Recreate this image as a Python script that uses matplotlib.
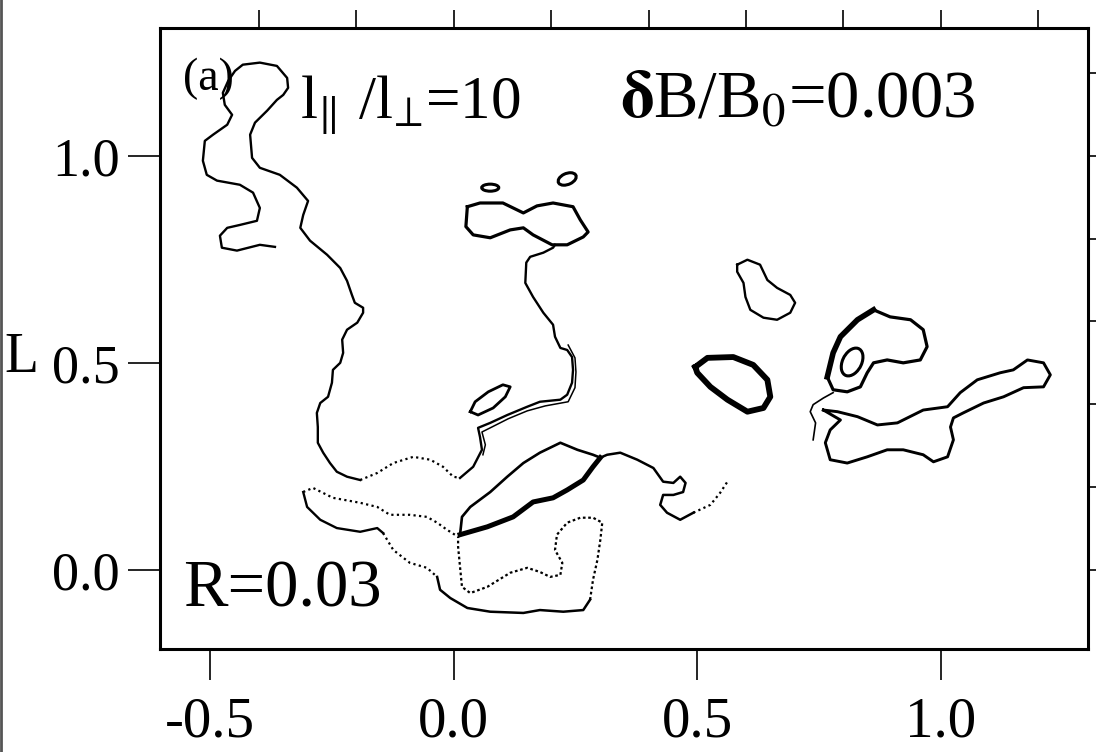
import matplotlib
matplotlib.use('Agg')
import matplotlib.pyplot as plt
from matplotlib.patches import Ellipse
from matplotlib.lines import Line2D

plt.rcParams['font.family'] = ['Liberation Serif', 'DejaVu Serif']
plt.rcParams['mathtext.fontset'] = 'stix'

# ---- traced field-line data (x, L) ----
# long wiggly line on the left
left_x = [-0.367, -0.398, -0.445, -0.476, -0.480, -0.465, -0.439, -0.404, -0.398, -0.412,
          -0.439, -0.486, -0.507, -0.515, -0.511, -0.494, -0.465, -0.455, -0.470, -0.474,
          -0.463, -0.449, -0.433, -0.398, -0.363, -0.342, -0.340, -0.350, -0.363, -0.383,
          -0.408, -0.418, -0.414, -0.398, -0.357, -0.322, -0.299, -0.309, -0.315, -0.295,
          -0.260, -0.233, -0.219, -0.209, -0.203, -0.186, -0.186, -0.198, -0.219, -0.229,
          -0.227, -0.233, -0.248, -0.250, -0.258, -0.274, -0.281, -0.279, -0.279, -0.268,
          -0.254, -0.240, -0.219, -0.192]
left_y = [0.780, 0.785, 0.771, 0.778, 0.807, 0.826, 0.833, 0.843, 0.874, 0.911,
          0.930, 0.940, 0.954, 0.988, 1.036, 1.051, 1.075, 1.099, 1.123, 1.152,
          1.181, 1.205, 1.220, 1.225, 1.217, 1.188, 1.164, 1.147, 1.135, 1.109,
          1.080, 1.051, 0.995, 0.971, 0.954, 0.923, 0.891, 0.857, 0.826, 0.795,
          0.761, 0.729, 0.698, 0.664, 0.645, 0.633, 0.621, 0.597, 0.580, 0.556,
          0.524, 0.500, 0.483, 0.452, 0.418, 0.403, 0.379, 0.345, 0.307, 0.283,
          0.258, 0.237, 0.225, 0.217]
left_dot_x = [-0.192, -0.157, -0.124, -0.083, -0.048, -0.022, -0.001, 0.013]
left_dot_y = [0.217, 0.234, 0.258, 0.273, 0.266, 0.249, 0.225, 0.222]

# stem rising to the peanut-shaped island
stem_x = [0.013, 0.040, 0.058, 0.054, 0.050, 0.075, 0.110, 0.151, 0.177, 0.219,
          0.233, 0.243, 0.245, 0.243, 0.233, 0.219, 0.208, 0.204, 0.184, 0.163,
          0.147, 0.149, 0.157, 0.184, 0.204, 0.208]
stem_y = [0.222, 0.249, 0.290, 0.321, 0.343, 0.355, 0.374, 0.394, 0.406, 0.411,
          0.423, 0.452, 0.483, 0.514, 0.531, 0.536, 0.563, 0.592, 0.621, 0.659,
          0.693, 0.742, 0.756, 0.766, 0.778, 0.785]
strand_x = [0.235, 0.249, 0.251, 0.249, 0.235, 0.188, 0.151, 0.112, 0.075, 0.058, 0.065, 0.060]
strand_y = [0.543, 0.512, 0.478, 0.440, 0.406, 0.396, 0.384, 0.365, 0.343, 0.333, 0.302, 0.278]

peanut_x = [0.028, 0.054, 0.101, 0.143, 0.171, 0.204, 0.245, 0.260, 0.276, 0.266,
            0.233, 0.202, 0.163, 0.143, 0.116, 0.075, 0.040, 0.025, 0.028]
peanut_y = [0.877, 0.886, 0.886, 0.862, 0.879, 0.886, 0.877, 0.845, 0.816, 0.804,
            0.785, 0.785, 0.809, 0.826, 0.821, 0.802, 0.809, 0.829, 0.877]

# small islands: centre x, centre y, width, height, angle
isl_cx = [0.075, 0.233, 0.818]
isl_cy = [0.923, 0.944, 0.502]
isl_w = [0.035, 0.040, 0.040]
isl_h = [0.017, 0.026, 0.070]
isl_ang = [0, 30, -20]

drop_x = [0.034, 0.044, 0.071, 0.101, 0.116, 0.106, 0.081, 0.050, 0.034]
drop_y = [0.382, 0.406, 0.430, 0.447, 0.442, 0.418, 0.391, 0.374, 0.382]

# tongue and lower loop
tongue_up_x = [-0.309, -0.289, -0.248, -0.192, -0.157, -0.131, -0.090, -0.055, -0.034, -0.014, 0.009]
tongue_up_y = [0.188, 0.198, 0.174, 0.162, 0.152, 0.133, 0.133, 0.128, 0.114, 0.097, 0.080]
tongue_lo_x = [-0.309, -0.301, -0.274, -0.240, -0.192, -0.157, -0.145]
tongue_lo_y = [0.188, 0.152, 0.121, 0.101, 0.092, 0.101, 0.089]
slope_x = [-0.145, -0.124, -0.090, -0.055, -0.034]
slope_y = [0.089, 0.048, 0.017, 0.005, -0.017]
bottom_x = [-0.034, -0.028, -0.007, 0.028, 0.075, 0.143, 0.177, 0.225, 0.266, 0.280]
bottom_y = [-0.017, -0.048, -0.068, -0.092, -0.101, -0.104, -0.097, -0.101, -0.097, -0.072]
loop_x = [0.280, 0.286, 0.295, 0.301, 0.305, 0.286, 0.260, 0.233, 0.212, 0.208,
          0.223, 0.219, 0.198, 0.177, 0.151, 0.116, 0.069, 0.034, 0.017, 0.013, 0.009, 0.009]
loop_y = [-0.072, -0.024, 0.024, 0.072, 0.114, 0.126, 0.126, 0.114, 0.085, 0.048,
          0.017, -0.012, -0.017, -0.005, 0.005, -0.007, -0.041, -0.056, -0.041, 0.007, 0.056, 0.080]

# lens shaped island
lens_lo_x = [0.013, 0.069, 0.122, 0.163, 0.204, 0.233, 0.266, 0.286, 0.301]
lens_lo_y = [0.085, 0.104, 0.128, 0.164, 0.174, 0.193, 0.217, 0.249, 0.271]
lens_up_x = [0.013, 0.017, 0.034, 0.075, 0.110, 0.143, 0.177, 0.219, 0.254, 0.286, 0.301]
lens_up_y = [0.085, 0.128, 0.152, 0.188, 0.225, 0.258, 0.283, 0.307, 0.290, 0.278, 0.271]
tail_x = [0.301, 0.315, 0.342, 0.377, 0.410, 0.430, 0.451, 0.465, 0.476, 0.471,
          0.451, 0.430, 0.424, 0.438, 0.465, 0.492]
tail_y = [0.271, 0.278, 0.283, 0.266, 0.246, 0.213, 0.210, 0.225, 0.210, 0.188,
          0.181, 0.181, 0.157, 0.138, 0.121, 0.138]
tail_dot_x = [0.492, 0.527, 0.547, 0.562]
tail_dot_y = [0.138, 0.157, 0.186, 0.213]

# right hand islands
blobB_x = [0.582, 0.603, 0.629, 0.644, 0.664, 0.691, 0.701, 0.691, 0.664, 0.636,
           0.609, 0.599, 0.595, 0.582, 0.582]
blobB_y = [0.737, 0.749, 0.737, 0.700, 0.681, 0.664, 0.645, 0.621, 0.604, 0.609,
           0.628, 0.659, 0.693, 0.720, 0.737]
blobC_x = [0.496, 0.521, 0.574, 0.615, 0.644, 0.650, 0.636, 0.603, 0.562, 0.527, 0.500, 0.496]
blobC_y = [0.490, 0.512, 0.514, 0.495, 0.459, 0.418, 0.391, 0.382, 0.411, 0.442, 0.476, 0.490]
blobD_x = [0.767, 0.779, 0.794, 0.829, 0.862, 0.896, 0.938, 0.964, 0.972, 0.958,
           0.923, 0.890, 0.862, 0.849, 0.835, 0.808, 0.779, 0.767]
blobD_y = [0.466, 0.524, 0.563, 0.604, 0.628, 0.611, 0.604, 0.580, 0.539, 0.507,
           0.500, 0.507, 0.500, 0.476, 0.442, 0.430, 0.435, 0.466]
tailD_x = [0.779, 0.759, 0.738, 0.732, 0.743, 0.738]
tailD_y = [0.428, 0.415, 0.399, 0.382, 0.355, 0.314]
blobE_x = [0.759, 0.788, 0.829, 0.870, 0.911, 0.964, 1.014, 1.040, 1.075, 1.122,
           1.149, 1.178, 1.211, 1.225, 1.211, 1.170, 1.129, 1.088, 1.046, 1.026,
           1.020, 1.026, 1.014, 0.985, 0.964, 0.923, 0.890, 0.849, 0.808, 0.773,
           0.763, 0.773, 0.794]
blobE_y = [0.386, 0.382, 0.370, 0.350, 0.355, 0.386, 0.394, 0.428, 0.459, 0.476,
           0.483, 0.507, 0.500, 0.471, 0.442, 0.440, 0.418, 0.403, 0.379, 0.367,
           0.345, 0.314, 0.273, 0.261, 0.278, 0.290, 0.290, 0.273, 0.258, 0.266,
           0.307, 0.338, 0.362]

x_major = [-0.5, 0.0, 0.5, 1.0]
y_major = [0.0, 0.5, 1.0]
top_ticks = [-0.4, -0.2, 0.0, 0.2, 0.4, 0.6, 0.8, 1.0, 1.2]
right_ticks = [0.0, 0.2, 0.4, 0.6, 0.8, 1.0, 1.2]

fig = plt.figure(figsize=(10.96, 7.52), dpi=100)
ax = fig.add_axes([0.146, 0.137, 0.847, 0.826])

k = 'black'
ax.plot(left_x, left_y, color=k, lw=1.7)
ax.plot(left_dot_x, left_dot_y, color=k, lw=1.6, ls=(0, (1, 1.5)))
ax.plot(stem_x, stem_y, color=k, lw=1.7)
ax.plot(strand_x, strand_y, color=k, lw=1.1)
ax.plot(peanut_x, peanut_y, color=k, lw=2.3)
ax.plot(drop_x, drop_y, color=k, lw=2.0)
for cx, cy, w, h, a in zip(isl_cx, isl_cy, isl_w, isl_h, isl_ang):
    ax.add_patch(Ellipse((cx, cy), w, h, angle=a, fill=False, ec=k, lw=2.2))

ax.plot(tongue_up_x, tongue_up_y, color=k, lw=1.6, ls=(0, (1, 1.5)))
ax.plot(tongue_lo_x, tongue_lo_y, color=k, lw=1.7)
ax.plot(slope_x, slope_y, color=k, lw=1.6, ls=(0, (1, 1.5)))
ax.plot(bottom_x, bottom_y, color=k, lw=1.8)
ax.plot(loop_x, loop_y, color=k, lw=1.6, ls=(0, (1.2, 1.2)))
ax.plot(lens_lo_x, lens_lo_y, color=k, lw=3.6)
ax.plot(lens_up_x, lens_up_y, color=k, lw=1.9)
ax.plot(tail_x, tail_y, color=k, lw=1.8)
ax.plot(tail_dot_x, tail_dot_y, color=k, lw=1.6, ls=(0, (1, 1.5)))

ax.plot(blobB_x, blobB_y, color=k, lw=1.7)
ax.plot(blobC_x, blobC_y, color=k, lw=4.2)
ax.plot(blobD_x, blobD_y, color=k, lw=2.3)
ax.plot(blobD_x[:5], blobD_y[:5], color=k, lw=4.0)
ax.plot(tailD_x, tailD_y, color=k, lw=1.2)
ax.plot(blobE_x + blobE_x[:1], blobE_y + blobE_y[:1], color=k, lw=2.1)

ax.set_xlim(-0.603, 1.303)
ax.set_ylim(-0.191, 1.309)

for s in ax.spines.values():
    s.set_linewidth(2.2)

ax.set_xticks(x_major)
ax.set_xticklabels(['-0.5', '0.0', '0.5', '1.0'], fontsize=41)
ax.set_yticks(y_major)
ax.set_yticklabels(['0.0', '0.5', '1.0'], fontsize=39)
ax.tick_params(axis='x', direction='out', length=22, width=1.2, pad=12)
ax.tick_params(axis='y', direction='out', length=23, width=1.2, pad=6)

sec_top = ax.secondary_xaxis('top')
sec_top.set_xticks(top_ticks)
sec_top.set_xticklabels([])
sec_top.tick_params(direction='out', length=13, width=1.2)
sec_right = ax.secondary_yaxis('right')
sec_right.set_yticks(right_ticks)
sec_right.set_yticklabels([])
sec_right.tick_params(direction='out', length=13, width=1.2)

ax.text(0.025, 0.952, '(a)', transform=ax.transAxes, fontsize=33, va='top', ha='left')
ax.text(0.151, 0.855, 'l$_{‖}$ /l$_{⊥}$=10', transform=ax.transAxes,
        fontsize=44, va='baseline', ha='left')
ax.text(0.496, 0.855, r'$\mathbf{\delta}$B/B$_0$=0.003', transform=ax.transAxes,
        fontsize=48, va='baseline', ha='left')
ax.text(0.025, 0.068, 'R=0.03', transform=ax.transAxes, fontsize=48, va='baseline', ha='left')
fig.text(0.004, 0.524, 'L', fontsize=40, va='center', ha='left')

fig.add_artist(Line2D([0.001, 0.001], [0, 1], transform=fig.transFigure, color='#555555', lw=2))

fig.savefig('out.png', dpi=100)
